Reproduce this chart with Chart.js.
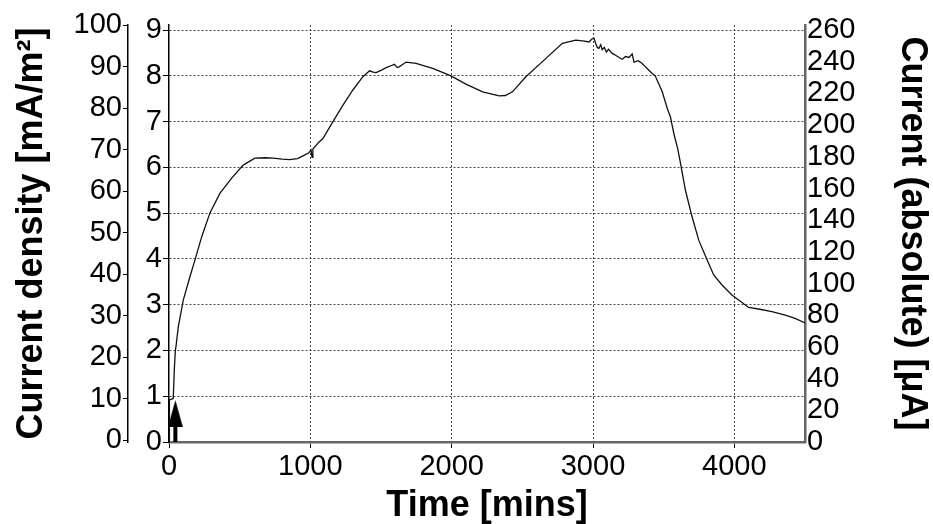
<!DOCTYPE html>
<html>
<head>
<meta charset="utf-8">
<script src="https://cdn.jsdelivr.net/npm/chart.js@4"></script>
<style>
  html, body { margin: 0; padding: 0; background: #fff; }
</style>
</head>
<body>
<canvas id="chart" width="933" height="524"></canvas>
<script>
// time [mins] and measured current, read on the inner 0..9 scale
var timeMins = [0, 3, 30, 38, 45, 50, 66, 101, 148, 184, 231, 289, 360, 442, 525, 607, 680, 737, 800, 854,
  910, 948, 990, 1005, 1012, 1018, 1060, 1089, 1160, 1231, 1301, 1372, 1419, 1445, 1466, 1500, 1537, 1570,
  1595, 1615, 1631, 1650, 1678, 1748, 1866, 1995, 2101, 2219, 2336, 2380, 2430, 2525, 2642, 2783, 2878,
  2940, 2972, 2990, 3007, 3020, 3030, 3042, 3055, 3065, 3080, 3095, 3110, 3136, 3160, 3185, 3207, 3230,
  3255, 3277, 3290, 3301, 3320, 3348, 3370, 3395, 3419, 3440, 3466, 3490, 3525, 3548, 3572, 3600, 3619,
  3654, 3701, 3748, 3807, 3854, 3913, 3983, 4101, 4180, 4266, 4360, 4430, 4500];
var current = [0, 0.92, 0.95, 1.6, 2.0, 2.1, 2.52, 3.10, 3.61, 3.98, 4.48, 5.0, 5.43, 5.76, 6.05, 6.20, 6.21, 6.20, 6.18, 6.17,
  6.19, 6.25, 6.32, 6.38, 6.22, 6.40, 6.55, 6.63, 7.0, 7.36, 7.69, 7.98, 8.11, 8.08, 8.07, 8.12, 8.18, 8.22,
  8.25, 8.18, 8.20, 8.24, 8.30, 8.27, 8.16, 8.0, 7.82, 7.65, 7.56, 7.57, 7.65, 7.98, 8.31, 8.71, 8.78,
  8.76, 8.74, 8.80, 8.82, 8.70, 8.62, 8.60, 8.68, 8.57, 8.62, 8.52, 8.58, 8.49, 8.45, 8.40, 8.36, 8.42,
  8.40, 8.48, 8.30, 8.31, 8.33, 8.27, 8.20, 8.12, 8.05, 8.00, 7.82, 7.65, 7.29, 7.10, 6.74, 6.40, 6.09,
  5.50, 4.92, 4.41, 3.98, 3.65, 3.43, 3.21, 2.94, 2.90, 2.85, 2.77, 2.70, 2.60];

// tick labels of the four axes
var timeTicks = [0, 1000, 2000, 3000, 4000];
var innerTicks = [0, 1, 2, 3, 4, 5, 6, 7, 8, 9];
var densityTicks = [0, 10, 20, 30, 40, 50, 60, 70, 80, 90, 100];
var absTicks = [0, 20, 40, 60, 80, 100, 120, 140, 160, 180, 200, 220, 240, 260];

// start marker (arrow)
var arrowTime = 45;
var arrowShaft = [0, 0.4];
var arrowHead = 0.62;

Chart.defaults.font.family = "'Liberation Sans', Arial, sans-serif";
Chart.defaults.color = "#000";

// narrow arrow head used as point style
var head = document.createElement("canvas");
head.width = 15;
head.height = 27;
var hctx = head.getContext("2d");
hctx.fillStyle = "#000";
hctx.beginPath();
hctx.moveTo(7.5, 0);
hctx.lineTo(15, 27);
hctx.lineTo(0, 27);
hctx.closePath();
hctx.fill();

var tickFont = { size: 29 };
var titleFont = { size: 36, weight: "bold", lineHeight: 1 };

function setTicks(list) {
  return function (scale) {
    scale.ticks = list.map(function (v) { return { value: v }; });
  };
}
function hideZero(ctx) {
  return ctx.tick && ctx.tick.value === 0 ? "rgba(0,0,0,0)" : "#444";
}
function plain(v) {
  return String(v);
}

var points = [];
for (var i = 0; i < timeMins.length; i++) {
  points.push({ x: timeMins[i], y: current[i] });
}

new Chart(document.getElementById("chart"), {
  type: "line",
  data: {
    datasets: [
      {
        data: points,
        borderColor: "#111",
        borderWidth: 1.3,
        pointRadius: 0,
        tension: 0,
        yAxisID: "y",
      },
      {
        data: [{ x: arrowTime, y: arrowShaft[0] }, { x: arrowTime, y: arrowShaft[1] }],
        borderColor: "#000",
        borderWidth: 4,
        pointRadius: 0,
        yAxisID: "y",
      },
      {
        data: [{ x: arrowTime, y: arrowHead }],
        showLine: false,
        pointStyle: head,
        pointRadius: 5,
        yAxisID: "y",
      },
    ],
  },
  options: {
    responsive: false,
    animation: false,
    layout: { padding: { top: 25, left: 0, right: 0, bottom: 0 } },
    plugins: { legend: { display: false }, tooltip: { enabled: false } },
    scales: {
      x: {
        type: "linear",
        position: "bottom",
        min: 0,
        max: 4500,
        afterBuildTicks: setTicks(timeTicks),
        afterFit: function (s) { s.height = 82; },
        grid: { color: hideZero, lineWidth: 1, tickLength: 6, tickColor: "#000" },
        border: { color: "#666", width: 2.5, dash: [2, 2] },
        ticks: { font: tickFont, padding: 2, maxRotation: 0, autoSkip: false, callback: plain },
        title: { display: true, text: "Time [mins]", font: titleFont, padding: { top: 0, bottom: 0 } },
      },
      y: {
        position: "left",
        weight: 0,
        min: 0,
        max: 9.11,
        afterBuildTicks: setTicks(innerTicks),
        afterFit: function (s) { s.width = 41; },
        grid: { color: hideZero, lineWidth: 1, tickLength: 6, tickColor: "#000" },
        border: { color: "#000", width: 1.5, dash: [2, 2] },
        ticks: { font: tickFont, padding: 1, autoSkip: false, callback: plain },
      },
      yDensity: {
        position: "left",
        weight: 1,
        min: -0.48,
        max: 100,
        afterBuildTicks: setTicks(densityTicks),
        afterFit: function (s) { s.width = 128; },
        grid: { drawOnChartArea: false, tickLength: 5, tickColor: "#000" },
        border: { color: "#000", width: 1.5 },
        ticks: { font: tickFont, padding: 1, autoSkip: false, callback: plain },
        title: { display: true, text: "Current density [mA/m²]", font: titleFont, padding: { top: 14, bottom: 0 } },
      },
      yAbs: {
        position: "right",
        min: 0,
        max: 263.2,
        afterBuildTicks: setTicks(absTicks),
        afterFit: function (s) { s.width = 128; },
        grid: { drawOnChartArea: false, drawTicks: false },
        border: { color: "#666", width: 2.5 },
        ticks: { font: tickFont, padding: 2, autoSkip: false, callback: plain },
        title: { display: true, text: "Current (absolute) [μA]", font: titleFont, padding: { top: 3, bottom: 0 } },
      },
    },
  },
});
</script>
</body>
</html>
